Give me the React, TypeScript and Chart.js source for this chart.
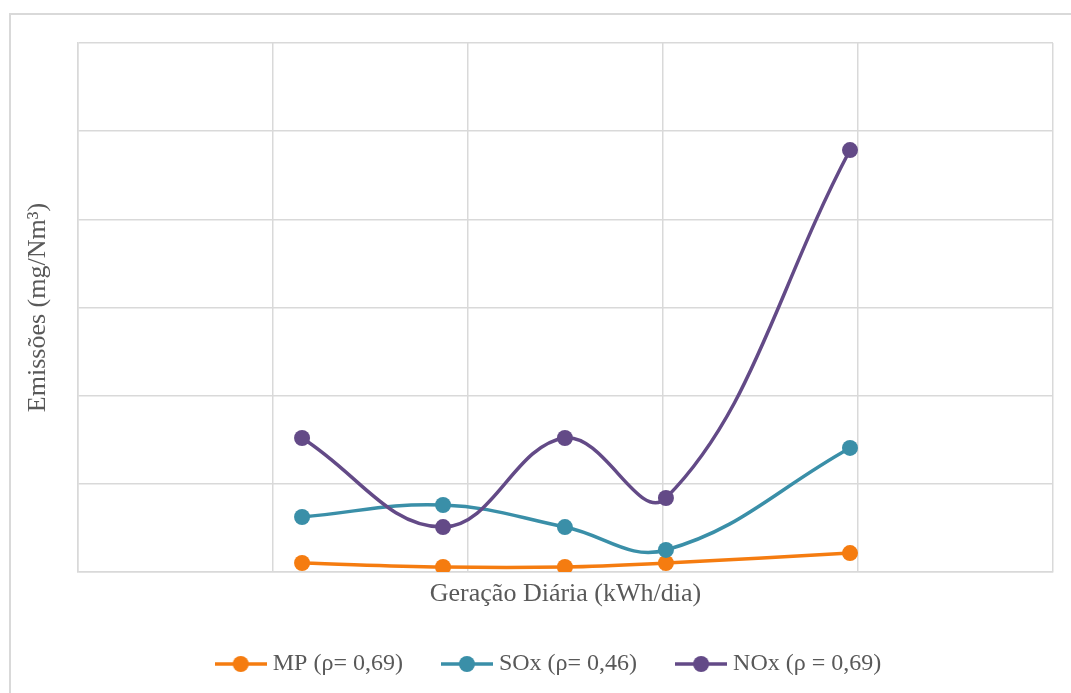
import React, { useEffect, useRef } from "react";
import { Chart, registerables } from "chart.js";

Chart.register(...registerables);

const xValues = [1.149, 1.872, 2.497, 3.015, 3.959];
const mpValues = [0.102, 0.057, 0.057, 0.102, 0.215];
const soxValues = [0.624, 0.76, 0.51, 0.25, 1.407];
const noxValues = [1.52, 0.51, 1.52, 0.839, 4.786];
const seriesLabels = ["MP (ρ= 0,69)", "SOx (ρ= 0,46)", "NOx (ρ = 0,69)"];
const seriesColors = ["#f57c10", "#3a8fa8", "#634a87"];
const xTitle = "Geração Diária (kWh/dia)";
const yTitle = "Emissões (mg/Nm³)";

const FONT = "'Liberation Serif', 'Times New Roman', serif";
const GRID = "#d9d9d9";
const TEXT = "#595959";

function legendMarker(color: string): HTMLCanvasElement {
  const c = document.createElement("canvas");
  c.width = 52;
  c.height = 18;
  const ctx = c.getContext("2d")!;
  ctx.strokeStyle = color;
  ctx.lineWidth = 3.5;
  ctx.beginPath();
  ctx.moveTo(0, 9);
  ctx.lineTo(52, 9);
  ctx.stroke();
  ctx.fillStyle = color;
  ctx.beginPath();
  ctx.arc(26, 9, 8, 0, Math.PI * 2);
  ctx.fill();
  return c;
}

export default function App() {
  const ref = useRef<HTMLCanvasElement>(null);

  useEffect(() => {
    const allValues = [mpValues, soxValues, noxValues];
    const datasets = allValues.map((vals, i) => ({
      label: seriesLabels[i],
      data: vals.map((y, j) => ({ x: xValues[j], y })),
      borderColor: seriesColors[i],
      backgroundColor: seriesColors[i],
      borderWidth: 3.5,
      pointRadius: 8,
      pointHoverRadius: 8,
      pointBorderWidth: 0,
      showLine: true,
      tension: 0.4,
      order: 3 - i,
    }));
    const markers = seriesColors.map(legendMarker);
    const chart = new Chart(ref.current!, {
      type: "scatter",
      data: { datasets },
      options: {
        animation: false,
        responsive: false,
        maintainAspectRatio: false,
        layout: { padding: { left: 49, right: 54, top: 43, bottom: 7 } },
        plugins: {
          tooltip: { enabled: false },
          legend: {
            position: "bottom",
            labels: {
              usePointStyle: true,
              pointStyleWidth: 40,
              padding: 44,
              color: TEXT,
              font: { family: FONT, size: 24 },
              generateLabels: (ch: any) =>
                ch.data.datasets.map((d: any, i: number) => ({
                  text: d.label,
                  fillStyle: seriesColors[i],
                  strokeStyle: seriesColors[i],
                  fontColor: TEXT,
                  lineWidth: 0,
                  pointStyle: markers[i],
                  hidden: false,
                  datasetIndex: i,
                })),
            },
          },
        },
        scales: {
          x: {
            type: "linear",
            min: 0,
            max: 5,
            ticks: { display: false, stepSize: 1 },
            grid: { color: GRID, lineWidth: 1.5, drawTicks: false },
            border: { color: GRID, width: 1.5 },
            title: {
              display: true,
              text: xTitle,
              color: TEXT,
              font: { family: FONT, size: 26 },
              padding: { top: 4, bottom: -2 },
            },
            afterFit: (s: any) => {
              s.height = 36;
            },
          },
          y: {
            type: "linear",
            min: 0,
            max: 6,
            ticks: { display: false, stepSize: 1 },
            grid: { color: GRID, lineWidth: 1.5, drawTicks: false },
            border: { color: GRID, width: 1.5 },
            title: {
              display: true,
              text: yTitle,
              color: TEXT,
              font: { family: FONT, size: 26 },
              padding: { top: -26.6, bottom: 0 },
            },
            afterFit: (s: any) => {
              s.width = 29;
            },
          },
        },
      },
    });
    return () => chart.destroy();
  }, []);

  return (
    <div
      style={{
        position: "fixed",
        left: 0,
        top: 0,
        width: 1071,
        height: 693,
        overflow: "hidden",
        background: "#fff",
      }}
    >
      <div
        style={{
          position: "absolute",
          left: 9,
          top: 13,
          width: 1200,
          height: 800,
          border: "2px solid #d9d9d9",
          boxSizing: "border-box",
        }}
      />
      <canvas
        ref={ref}
        width={1107}
        height={693}
        style={{ position: "absolute", left: 0, top: 0 }}
      />
    </div>
  );
}
